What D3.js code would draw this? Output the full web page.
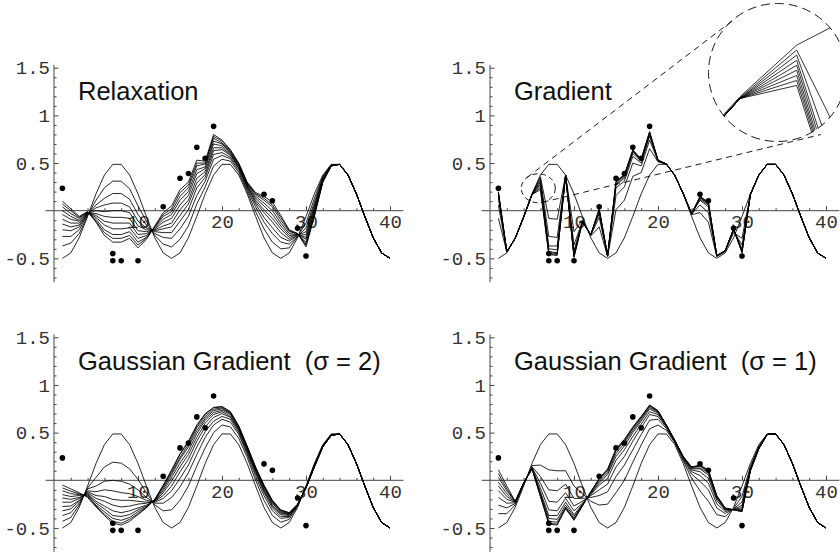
<!DOCTYPE html>
<html><head><meta charset="utf-8">
<script src="https://cdn.jsdelivr.net/npm/d3@7/dist/d3.min.js"></script>
<style>body{margin:0;background:#fff}svg{display:block}</style>
</head><body>
<svg id="c" width="840" height="555"></svg>
<script>
// ---------- data ----------
const xValues = [1,2,3,4,5,6,7,8,9,10,11,12,13,14,15,16,17,18,19,20,21,22,23,24,25,26,27,28,29,30,31,32,33,34,35,36,37,38,39,40];
const sharedTail = [0.486,0.374,0.177,-0.06,-0.284,-0.443,-0.5]; // x = 34..40, all curves coincide
const initialCurve = [-0.5,-0.443,-0.284,-0.06,0.177,0.374,0.486,0.486,0.374,0.177,-0.06,-0.284,-0.443,-0.5,-0.443,-0.284,-0.06,0.177,0.374,0.486,0.486,0.374,0.177,-0.06,-0.284,-0.443,-0.5,-0.443,-0.284,-0.06,0.177,0.374,0.486, ...sharedTail];

const dotsX = [1,7,7,8,10,13,15,16,17,18,19,25,26,29,30];
const dotsY = [0.235,-0.45,-0.525,-0.525,-0.525,0.042,0.34,0.39,0.665,0.55,0.885,0.172,0.105,-0.185,-0.475];

const relaxationCurves = [
 initialCurve,
 [-0.37,-0.34,-0.24,-0.05,0.11,0.24,0.31,0.31,0.23,0.05,-0.11,-0.26,-0.35,-0.38,-0.30,-0.16,0.07,0.25,0.47,0.54,0.52,0.40,0.20,-0.01,-0.19,-0.33,-0.40,-0.39,-0.27,-0.13,0.13,0.36,0.48, ...sharedTail],
 [-0.27,-0.27,-0.20,-0.04,0.06,0.13,0.18,0.18,0.12,-0.04,-0.15,-0.24,-0.28,-0.29,-0.19,-0.06,0.16,0.31,0.54,0.58,0.545,0.42,0.22,0.04,-0.12,-0.24,-0.33,-0.35,-0.27,-0.18,0.09,0.35,0.48, ...sharedTail],
 [-0.20,-0.21,-0.17,-0.035,0.03,0.06,0.08,0.08,0.04,-0.11,-0.18,-0.22,-0.23,-0.23,-0.11,0.01,0.24,0.35,0.59,0.61,0.56,0.44,0.24,0.07,-0.07,-0.18,-0.28,-0.32,-0.26,-0.22,0.06,0.34,0.48, ...sharedTail],
 [-0.14,-0.17,-0.15,-0.03,0.00,-0.01,0.00,0.00,-0.02,-0.16,-0.20,-0.21,-0.19,-0.17,-0.05,0.07,0.29,0.38,0.63,0.64,0.58,0.45,0.25,0.09,-0.02,-0.12,-0.23,-0.30,-0.26,-0.25,0.04,0.33,0.48, ...sharedTail],
 [-0.09,-0.13,-0.13,-0.026,-0.03,-0.06,-0.07,-0.07,-0.08,-0.21,-0.22,-0.20,-0.16,-0.13,0.01,0.11,0.34,0.41,0.66,0.66,0.59,0.46,0.26,0.11,0.01,-0.08,-0.19,-0.28,-0.25,-0.28,0.02,0.32,0.475, ...sharedTail],
 [-0.04,-0.09,-0.11,-0.022,-0.05,-0.11,-0.13,-0.13,-0.13,-0.25,-0.24,-0.19,-0.12,-0.08,0.06,0.16,0.39,0.44,0.70,0.68,0.60,0.47,0.27,0.13,0.05,-0.04,-0.16,-0.26,-0.25,-0.30,0.00,0.32,0.47, ...sharedTail],
 [0.00,-0.06,-0.10,-0.018,-0.07,-0.15,-0.19,-0.19,-0.18,-0.29,-0.26,-0.18,-0.09,-0.04,0.11,0.20,0.43,0.46,0.73,0.70,0.61,0.48,0.28,0.15,0.08,0.00,-0.13,-0.24,-0.25,-0.33,-0.02,0.31,0.47, ...sharedTail],
 [0.04,-0.03,-0.08,-0.015,-0.09,-0.20,-0.25,-0.25,-0.22,-0.33,-0.28,-0.17,-0.06,-0.01,0.15,0.24,0.47,0.49,0.76,0.71,0.625,0.49,0.29,0.17,0.11,0.04,-0.10,-0.22,-0.24,-0.35,-0.04,0.31,0.47, ...sharedTail],
 [0.07,0.00,-0.07,-0.012,-0.11,-0.23,-0.29,-0.29,-0.26,-0.36,-0.29,-0.17,-0.04,0.02,0.19,0.27,0.50,0.50,0.78,0.73,0.63,0.49,0.29,0.18,0.13,0.06,-0.07,-0.21,-0.24,-0.36,-0.05,0.30,0.47, ...sharedTail],
 [0.10,0.02,-0.06,-0.01,-0.12,-0.26,-0.33,-0.33,-0.29,-0.39,-0.30,-0.16,-0.02,0.05,0.22,0.30,0.53,0.52,0.80,0.74,0.64,0.50,0.30,0.19,0.15,0.09,-0.05,-0.20,-0.24,-0.38,-0.06,0.30,0.47, ...sharedTail]
];

const gradientCurves = [
 initialCurve,
 [-0.08,-0.435,-0.288,-0.066,0.173,0.355,-0.08,-0.09,0.372,-0.22,-0.096,-0.264,-0.17,-0.482,0.01,0.11,0.36,0.40,0.65,0.512,0.488,0.372,0.179,-0.042,-0.02,-0.12,-0.482,-0.429,-0.23,-0.29,0.173,0.374,0.486, ...sharedTail],
 [0.06,-0.433,-0.289,-0.068,0.171,0.336,-0.27,-0.28,0.371,-0.36,-0.108,-0.257,-0.07,-0.476,0.16,0.25,0.50,0.47,0.74,0.521,0.489,0.371,0.18,-0.036,0.06,-0.02,-0.476,-0.425,-0.21,-0.36,0.171,0.374,0.486, ...sharedTail],
 [0.13,-0.431,-0.289,-0.069,0.171,0.316,-0.37,-0.37,0.37,-0.42,-0.114,-0.253,-0.03,-0.473,0.24,0.31,0.57,0.50,0.78,0.526,0.49,0.37,0.18,-0.033,0.11,0.04,-0.473,-0.422,-0.20,-0.40,0.171,0.374,0.486, ...sharedTail],
 [0.16,-0.431,-0.29,-0.069,0.17,0.297,-0.40,-0.41,0.37,-0.45,-0.116,-0.252,-0.01,-0.472,0.27,0.34,0.60,0.52,0.80,0.527,0.49,0.37,0.18,-0.032,0.12,0.06,-0.472,-0.421,-0.196,-0.42,0.17,0.374,0.486, ...sharedTail],
 [0.18,-0.43,-0.29,-0.07,0.17,0.278,-0.43,-0.44,0.37,-0.47,-0.118,-0.251,0.00,-0.471,0.28,0.36,0.62,0.53,0.81,0.528,0.49,0.37,0.18,-0.031,0.135,0.07,-0.471,-0.421,-0.193,-0.43,0.17,0.374,0.486, ...sharedTail],
 [0.19,-0.43,-0.29,-0.07,0.17,0.258,-0.44,-0.45,0.37,-0.48,-0.119,-0.251,0.01,-0.471,0.30,0.37,0.63,0.53,0.82,0.529,0.49,0.37,0.18,-0.031,0.14,0.08,-0.471,-0.42,-0.192,-0.43,0.17,0.374,0.486, ...sharedTail],
 [0.19,-0.43,-0.29,-0.07,0.17,0.239,-0.45,-0.46,0.37,-0.48,-0.119,-0.25,0.015,-0.47,0.30,0.37,0.63,0.54,0.825,0.53,0.49,0.37,0.18,-0.03,0.145,0.085,-0.47,-0.42,-0.191,-0.44,0.17,0.374,0.486, ...sharedTail],
 [0.20,-0.43,-0.29,-0.07,0.17,0.22,-0.46,-0.47,0.37,-0.49,-0.12,-0.25,0.02,-0.47,0.31,0.38,0.64,0.54,0.83,0.53,0.49,0.37,0.18,-0.03,0.15,0.09,-0.47,-0.42,-0.19,-0.44,0.17,0.374,0.486, ...sharedTail]
];

const gauss2Curves = [
 initialCurve,
 [-0.43,-0.39,-0.26,-0.08,0.03,0.14,0.19,0.18,0.12,0.01,-0.13,-0.26,-0.32,-0.31,-0.21,-0.06,0.15,0.34,0.50,0.58,0.56,0.44,0.24,0.00,-0.21,-0.37,-0.44,-0.41,-0.273,-0.066,0.165,0.366,0.481, ...sharedTail],
 [-0.37,-0.34,-0.24,-0.09,-0.06,-0.01,0.00,-0.01,-0.04,-0.10,-0.18,-0.24,-0.24,-0.18,-0.07,0.08,0.27,0.45,0.58,0.64,0.61,0.48,0.27,0.04,-0.16,-0.32,-0.40,-0.39,-0.266,-0.07,0.158,0.362,0.478, ...sharedTail],
 [-0.32,-0.30,-0.22,-0.11,-0.12,-0.10,-0.11,-0.13,-0.14,-0.17,-0.21,-0.23,-0.19,-0.11,0.02,0.16,0.35,0.51,0.62,0.67,0.64,0.50,0.29,0.07,-0.13,-0.29,-0.38,-0.38,-0.262,-0.073,0.153,0.359,0.476, ...sharedTail],
 [-0.275,-0.27,-0.21,-0.12,-0.16,-0.17,-0.20,-0.21,-0.21,-0.22,-0.23,-0.22,-0.16,-0.06,0.09,0.22,0.41,0.56,0.66,0.70,0.66,0.52,0.31,0.09,-0.11,-0.27,-0.36,-0.37,-0.259,-0.075,0.15,0.356,0.474, ...sharedTail],
 [-0.23,-0.23,-0.19,-0.13,-0.19,-0.22,-0.26,-0.28,-0.27,-0.25,-0.24,-0.22,-0.13,-0.01,0.14,0.27,0.45,0.60,0.69,0.72,0.67,0.53,0.32,0.10,-0.10,-0.26,-0.35,-0.36,-0.257,-0.076,0.147,0.355,0.473, ...sharedTail],
 [-0.185,-0.20,-0.18,-0.14,-0.22,-0.27,-0.32,-0.34,-0.32,-0.29,-0.26,-0.21,-0.11,0.03,0.18,0.31,0.49,0.63,0.71,0.735,0.69,0.54,0.33,0.11,-0.08,-0.24,-0.34,-0.355,-0.255,-0.077,0.145,0.353,0.472, ...sharedTail],
 [-0.15,-0.17,-0.16,-0.15,-0.24,-0.30,-0.37,-0.38,-0.36,-0.31,-0.27,-0.21,-0.09,0.06,0.22,0.35,0.52,0.65,0.73,0.75,0.70,0.55,0.34,0.12,-0.07,-0.23,-0.33,-0.35,-0.253,-0.078,0.143,0.352,0.471, ...sharedTail],
 [-0.11,-0.14,-0.15,-0.16,-0.26,-0.33,-0.40,-0.42,-0.39,-0.33,-0.28,-0.20,-0.07,0.08,0.24,0.375,0.55,0.67,0.745,0.76,0.71,0.56,0.35,0.13,-0.06,-0.22,-0.32,-0.345,-0.252,-0.079,0.142,0.351,0.471, ...sharedTail],
 [-0.08,-0.115,-0.14,-0.17,-0.27,-0.355,-0.43,-0.45,-0.41,-0.35,-0.285,-0.20,-0.06,0.10,0.27,0.40,0.57,0.69,0.76,0.77,0.715,0.565,0.355,0.135,-0.055,-0.215,-0.315,-0.34,-0.251,-0.08,0.141,0.35,0.47, ...sharedTail],
 [-0.05,-0.09,-0.13,-0.18,-0.28,-0.37,-0.45,-0.47,-0.43,-0.36,-0.29,-0.20,-0.05,0.11,0.28,0.41,0.58,0.70,0.765,0.775,0.72,0.57,0.36,0.14,-0.05,-0.21,-0.31,-0.34,-0.25,-0.08,0.14,0.35,0.47, ...sharedTail]
];

const gauss1Curves = [
 initialCurve,
 [-0.35,-0.35,-0.258,-0.048,0.154,0.16,0.11,0.10,0.10,-0.06,-0.14,-0.22,-0.26,-0.25,-0.13,0.00,0.19,0.37,0.54,0.58,0.524,0.392,0.206,0.02,-0.11,-0.22,-0.36,-0.382,-0.294,-0.168,0.146,0.356,0.484, ...sharedTail],
 [-0.26,-0.29,-0.244,-0.041,0.142,0.04,-0.10,-0.11,-0.04,-0.19,-0.19,-0.18,-0.16,-0.12,0.04,0.16,0.32,0.48,0.63,0.64,0.544,0.403,0.222,0.064,-0.01,-0.10,-0.29,-0.348,-0.30,-0.227,0.129,0.347,0.482, ...sharedTail],
 [-0.18,-0.24,-0.236,-0.038,0.134,-0.03,-0.22,-0.23,-0.13,-0.27,-0.22,-0.16,-0.10,-0.04,0.14,0.25,0.41,0.55,0.69,0.67,0.557,0.409,0.232,0.09,0.05,-0.03,-0.245,-0.328,-0.304,-0.263,0.119,0.341,0.482, ...sharedTail],
 [-0.11,-0.20,-0.23,-0.035,0.129,-0.08,-0.31,-0.32,-0.19,-0.32,-0.24,-0.15,-0.05,0.02,0.21,0.32,0.46,0.59,0.72,0.69,0.565,0.413,0.238,0.108,0.09,0.02,-0.21,-0.314,-0.306,-0.287,0.112,0.337,0.481, ...sharedTail],
 [-0.06,-0.17,-0.226,-0.033,0.126,-0.12,-0.37,-0.37,-0.23,-0.36,-0.25,-0.14,-0.03,0.06,0.25,0.36,0.50,0.62,0.75,0.705,0.571,0.415,0.243,0.12,0.12,0.055,-0.19,-0.305,-0.307,-0.303,0.108,0.334,0.481, ...sharedTail],
 [-0.02,-0.14,-0.224,-0.032,0.123,-0.14,-0.40,-0.41,-0.26,-0.38,-0.26,-0.13,-0.01,0.08,0.28,0.39,0.52,0.64,0.765,0.715,0.574,0.417,0.246,0.128,0.13,0.08,-0.18,-0.299,-0.308,-0.314,0.105,0.333,0.48, ...sharedTail],
 [0.03,-0.11,-0.222,-0.031,0.122,-0.15,-0.43,-0.44,-0.28,-0.40,-0.26,-0.125,0.01,0.10,0.31,0.41,0.54,0.655,0.78,0.72,0.577,0.419,0.248,0.134,0.15,0.09,-0.17,-0.295,-0.309,-0.322,0.102,0.331,0.48, ...sharedTail],
 [0.07,-0.09,-0.221,-0.03,0.121,-0.165,-0.45,-0.46,-0.29,-0.41,-0.27,-0.12,0.015,0.11,0.32,0.42,0.55,0.665,0.785,0.73,0.579,0.42,0.249,0.138,0.155,0.10,-0.165,-0.292,-0.31,-0.327,0.101,0.33,0.48, ...sharedTail],
 [0.11,-0.06,-0.22,-0.03,0.12,-0.17,-0.46,-0.47,-0.30,-0.42,-0.27,-0.12,0.02,0.12,0.33,0.43,0.56,0.67,0.79,0.73,0.58,0.42,0.25,0.14,0.16,0.11,-0.16,-0.29,-0.31,-0.33,0.10,0.33,0.48, ...sharedTail]
];

const panelTitles = ["Relaxation", "Gradient", "Gaussian Gradient  (\u03c3 = 2)", "Gaussian Gradient  (\u03c3 = 1)"];
const xTickValues = [10, 20, 30, 40];
const xTickLabels = ["10", "20", "30", "40"];
const xMinorTicks = [2,4,6,8,12,14,16,18,22,24,26,28,32,34,36,38];
const yTickValues = [-0.5, 0.5, 1, 1.5];
const yTickLabels = ["-0.5", "0.5", "1", "1.5"];
const yMinorTicks = [-0.7,-0.6,-0.4,-0.3,-0.2,-0.1,0.1,0.2,0.3,0.4,0.6,0.7,0.8,0.9,1.1,1.2,1.3,1.4];

// ---------- drawing ----------
const svg = d3.select('#c');
const layout = [
  {ox: 54,  oy: 210.7},
  {ox: 490, oy: 210.7},
  {ox: 54,  oy: 480.3},
  {ox: 490, oy: 480.3}
];
const allCurves = [relaxationCurves, gradientCurves, gauss2Curves, gauss1Curves];
const AXIS = '#444';
const scales = [];

function drawPanel(idx) {
  const L = layout[idx];
  const g = svg.append('g');
  const x = d3.scaleLinear().domain([0, 40]).range([L.ox, L.ox + 336]);
  const y = d3.scaleLinear().domain([0, 1.5]).range([L.oy, L.oy - 143]);
  scales.push({x, y});

  // axis lines
  g.append('line').attr('x1', x(-1)).attr('x2', x(41.6)).attr('y1', y(0)).attr('y2', y(0))
    .attr('stroke', AXIS).attr('stroke-width', 1);
  g.append('line').attr('x1', x(0)).attr('x2', x(0)).attr('y1', y(-0.75)).attr('y2', y(1.53))
    .attr('stroke', AXIS).attr('stroke-width', 1);

  // x ticks
  const gxm = g.append('g').attr('transform', `translate(0,${y(0)})`)
    .call(d3.axisBottom(x).tickValues(xMinorTicks).tickSize(-2.5).tickFormat(''));
  gxm.select('.domain').remove();
  gxm.attr('color', AXIS);
  const gx = g.append('g').attr('transform', `translate(0,${y(0)})`)
    .call(d3.axisBottom(x).tickValues(xTickValues).tickSize(-4.5).tickPadding(4)
      .tickFormat((d, i) => xTickLabels[i]));
  gx.select('.domain').remove();
  gx.attr('color', AXIS).attr('font-family', "'Liberation Mono', 'DejaVu Sans Mono', monospace").attr('font-size', 19);
  gx.selectAll('text').attr('fill', '#333');

  // y ticks
  const gym = g.append('g').attr('transform', `translate(${x(0)},0)`)
    .call(d3.axisLeft(y).tickValues(yMinorTicks).tickSize(-2.5).tickFormat(''));
  gym.select('.domain').remove();
  gym.attr('color', AXIS);
  const gy = g.append('g').attr('transform', `translate(${x(0)},0)`)
    .call(d3.axisLeft(y).tickValues(yTickValues).tickSize(-4.5).tickPadding(4)
      .tickFormat((d, i) => yTickLabels[i]));
  gy.select('.domain').remove();
  gy.attr('color', AXIS).attr('font-family', "'Liberation Mono', 'DejaVu Sans Mono', monospace").attr('font-size', 19);
  gy.selectAll('text').attr('fill', '#333');

  // curves
  const line = d3.line().x((d, i) => x(xValues[i])).y(d => y(d));
  g.append('g').selectAll('path').data(allCurves[idx]).join('path')
    .attr('d', line).attr('fill', 'none').attr('stroke', '#000')
    .attr('stroke-width', 0.85).attr('stroke-linejoin', 'miter');

  // data points
  g.append('g').selectAll('circle').data(dotsX).join('circle')
    .attr('cx', d => x(d)).attr('cy', (d, i) => y(dotsY[i])).attr('r', 2.8).attr('fill', '#000');

  // title
  g.append('text').attr('x', x(0) + 24).attr('y', y(0) - 110.5)
    .attr('font-family', "'Liberation Sans', Arial, Helvetica, sans-serif")
    .attr('font-size', 25.5).attr('fill', '#111').style('white-space', 'pre')
    .text(panelTitles[idx]);
}

[0, 1, 2, 3].forEach(drawPanel);

// ---------- magnifier on the Gradient panel ----------
const gs = scales[1];
const lens = {cx: 777.5, cy: 72.5, r: 69};
svg.append('defs').append('clipPath').attr('id', 'lensClip')
  .append('circle').attr('cx', lens.cx).attr('cy', lens.cy).attr('r', lens.r);
const ix = d3.scaleLinear().domain([5, 6]).range([740, 796.7]);
const iy = d3.scaleLinear().domain([0.177, 0.374]).range([96.7, 45.1]);
const insetLine = d3.line().x((d, i) => ix(xValues[i])).y(d => iy(d));
svg.append('g').attr('clip-path', 'url(#lensClip)')
  .selectAll('path').data(gradientCurves).join('path')
  .attr('d', insetLine).attr('fill', 'none').attr('stroke', '#000').attr('stroke-width', 0.8);

const dashed = sel => sel.attr('fill', 'none').attr('stroke', '#000').attr('stroke-width', 0.9);
svg.append('circle').attr('cx', lens.cx).attr('cy', lens.cy).attr('r', lens.r)
  .call(dashed).attr('stroke-dasharray', '9,5');
svg.append('ellipse').attr('cx', gs.x(5.75)).attr('cy', gs.y(0.235)).attr('rx', 17).attr('ry', 14.5)
  .call(dashed).attr('stroke-dasharray', '5,3.5');
svg.append('line').attr('x1', 527).attr('y1', 177.5).attr('x2', 736).attr('y2', 18)
  .call(dashed).attr('stroke-dasharray', '6,4.5');
svg.append('line').attr('x1', 542.5).attr('y1', 202.3).attr('x2', 821).attr('y2', 134.5)
  .call(dashed).attr('stroke-dasharray', '6,4.5');
</script>
</body></html>
